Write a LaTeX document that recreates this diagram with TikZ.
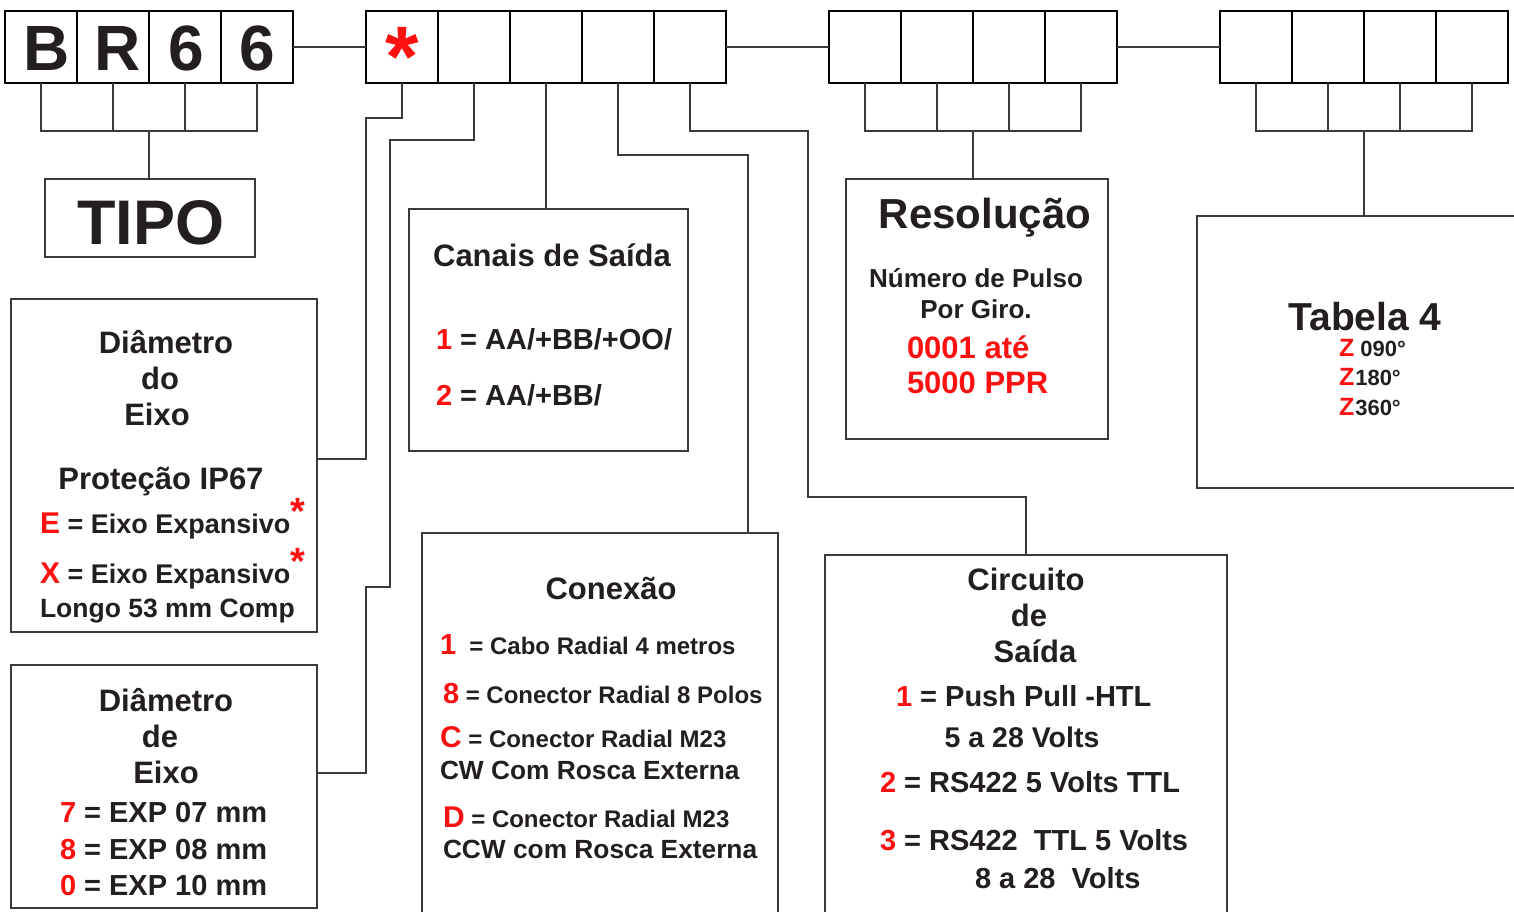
\documentclass[tikz,border=0pt]{standalone}
\usepackage{fontspec}
\setmainfont{Liberation Sans}
\usetikzlibrary{calc}
\definecolor{rd}{HTML}{FF1010}
\definecolor{ink}{HTML}{231F20}
\definecolor{ln}{HTML}{3A3A3A}
\newcommand\fz[1]{\fontsize{#1}{#1}\selectfont\bfseries}
\newcommand\R[1]{\textcolor{rd}{#1}}
\newcommand\RB[2]{\textcolor{rd}{\fontsize{#1}{#1}\selectfont #2}}
\newcommand\Ast{\textcolor{rd}{\raisebox{9pt}{\fontsize{38}{38}\selectfont *}}}
\begin{document}
\begin{tikzpicture}[x=1pt,y=-1pt,
  every node/.style={inner sep=0pt,outer sep=0pt,text=ink},
  cell/.style={draw=black,line width=2pt,minimum width=72pt,minimum height=72pt},
  box/.style={draw=ln,line width=1.5pt},
  wire/.style={draw=ln,line width=1.5pt},
  t/.style={anchor=base},
  tl/.style={anchor=base west}]
\useasboundingbox (0,0) rectangle (1514,911);
\fill[white] (0,0) rectangle (1514,911);

% ---- top cells
\foreach \i/\x in {1/41,2/113,3/185,4/257} \node[cell] (a\i) at (\x,47) {};
\foreach \i/\x in {1/402,2/474,3/546,4/618,5/690} \node[cell] (b\i) at (\x,47) {};
\foreach \i/\x in {1/865,2/937,3/1009,4/1081} \node[cell] (c\i) at (\x,47) {};
\foreach \i/\x in {1/1256,2/1328,3/1400,4/1472} \node[cell] (d\i) at (\x,47) {};

\node[t,font=\fz{64}] (la1) at (47,70) {B};
\node[t,font=\fz{64}] (la2) at (118,70) {R};
\node[t,font=\fz{64}] (la3) at (186,70) {6};
\node[t,font=\fz{64}] (la4) at (257,70) {6};
\node[t,font=\fz{86},text=rd] (star) at (402,86) {*};

\draw[wire] (a4.east) -- (b1.west);
\draw[wire] (b5.east) -- (c1.west);
\draw[wire] (c4.east) -- (d1.west);

% ---- boxes
\node[box,minimum width=210pt,minimum height=78pt] (tipo) at (150,218) {};
\node[box,minimum width=262pt,minimum height=260pt] (res) at (977,309) {};
\node[box,minimum width=323pt,minimum height=272pt] (tab) at (1358.5,352) {};
\node[box,minimum width=279pt,minimum height=242pt] (can) at (548.5,330) {};
\node[box,minimum width=356pt,minimum height=382pt] (con) at (600,724) {};
\node[box,minimum width=402pt,minimum height=360pt] (cir) at (1026,735) {};
\node[box,minimum width=306pt,minimum height=333pt] (dia1) at (164,465.5) {};
\node[box,minimum width=306pt,minimum height=243pt] (dia2) at (164,786.5) {};

% ---- sub boxes and stems
\draw[wire] (a1.south) -- ++(0,48) -| (a4.south);
\draw[wire] (a2.south) -- ++(0,48);
\draw[wire] (a3.south) -- ++(0,48);
\coordinate (as) at ($(a2.south)!0.5!(a3.south)+(0,48)$);
\draw[wire] (as) -- (as |- tipo.north);

\draw[wire] (c1.south) -- ++(0,48) -| (c4.south);
\draw[wire] (c2.south) -- ++(0,48);
\draw[wire] (c3.south) -- ++(0,48);
\coordinate (cs) at ($(c2.south)!0.5!(c3.south)+(0,48)$);
\draw[wire] (cs) -- (cs |- res.north);

\draw[wire] (d1.south) -- ++(0,48) -| (d4.south);
\draw[wire] (d2.south) -- ++(0,48);
\draw[wire] (d3.south) -- ++(0,48);
\coordinate (ds) at ($(d2.south)!0.5!(d3.south)+(0,48)$);
\draw[wire] (ds) -- (ds |- tab.north);

% ---- connectors of the second group
\coordinate (k1) at (366,118);
\coordinate (j1) at (317,459);
\draw[wire] (b1.south) |- (k1) |- (j1);
\coordinate (k2) at (390,140);
\coordinate (k3) at (366,587);
\coordinate (j2) at (317,773);
\draw[wire] (b2.south) |- (k2) |- (k3) |- (j2);
\draw[wire] (b3.south) -- (b3.south |- can.north);
\coordinate (k4) at (748,155);
\draw[wire] (b4.south) |- (k4) -- (k4 |- con.north);
\coordinate (k5) at (808,131);
\coordinate (k6) at (1026,497);
\draw[wire] (b5.south) |- (k5) |- (k6) -- (k6 |- cir.north);

% ---- texts
\node[t,font=\fz{63}] (tipot) at (151,244) {TIPO};

\node[t,font=\fz{31}] (cant) at (552,266) {Canais de Saída};
\node[tl,font=\fz{29}] (can1) at (436,349) {\R{1} = AA/+BB/+OO/};
\node[tl,font=\fz{29}] (can2) at (436,405) {\R{2} = AA/+BB/};

\node[t,font=\fz{42}] (rest) at (985,228) {Resolução};
\node[t,font=\fz{26}] (res1) at (976,287) {Número de Pulso};
\node[t,font=\fz{26}] (res2) at (976,318) {Por Giro.};
\node[tl,font=\fz{31},text=rd] (res3) at (907,358) {0001 até};
\node[tl,font=\fz{31},text=rd] (res4) at (907,393) {5000 PPR};

\node[t,font=\fz{39}] (tabt) at (1365,330) {Tabela 4};
\node[tl,font=\fz{22}] (tab1) at (1339,356) {\RB{25}{Z} 090°};
\node[tl,font=\fz{22}] (tab2) at (1339,385) {\RB{25}{Z}\kern1pt 180°};
\node[tl,font=\fz{22}] (tab3) at (1339,415) {\RB{25}{Z}\kern1pt 360°};

\node[t,font=\fz{31}] (d1a) at (166,353) {Diâmetro};
\node[t,font=\fz{31}] (d1b) at (160,389) {do};
\node[t,font=\fz{31}] (d1c) at (157,425) {Eixo};
\node[t,font=\fz{31}] (d1d) at (161,489) {Proteção IP67};
\node[tl,font=\fz{27}] (d1e) at (40,533) {\RB{30}{E} = Eixo Expansivo\Ast};
\node[tl,font=\fz{27}] (d1f) at (40,583) {\RB{30}{X} = Eixo Expansivo\Ast};
\node[tl,font=\fz{26.5}] (d1g) at (40,617) {Longo 53 mm Comp};

\node[t,font=\fz{31}] (d2a) at (166,711) {Diâmetro};
\node[t,font=\fz{31}] (d2b) at (160,747) {de};
\node[t,font=\fz{31}] (d2c) at (166,783) {Eixo};
\node[tl,font=\fz{29}] (d2d) at (60,822) {\R{7} = EXP 07 mm};
\node[tl,font=\fz{29}] (d2e) at (60,859) {\R{8} = EXP 08 mm};
\node[tl,font=\fz{29}] (d2f) at (60,895) {\R{0} = EXP 10 mm};

\node[t,font=\fz{31}] (cont) at (611,599) {Conexão};
\node[tl,font=\fz{24}] (con1) at (440,654) {\RB{29}{1} \ = Cabo Radial 4 metros};
\node[tl,font=\fz{24}] (con2) at (443,703) {\RB{29}{8} = Conector Radial 8 Polos};
\node[tl,font=\fz{24}] (con3) at (440,747) {\RB{30}{C} = Conector Radial M23};
\node[tl,font=\fz{26.3}] (con4) at (440,779) {CW Com Rosca Externa};
\node[tl,font=\fz{24}] (con5) at (443,827) {\RB{30}{D} = Conector Radial M23};
\node[tl,font=\fz{26.3}] (con6) at (443,858) {CCW com Rosca Externa};

\node[t,font=\fz{31}] (cira) at (1026,590) {Circuito};
\node[t,font=\fz{31}] (cirb) at (1029,626) {de};
\node[t,font=\fz{31}] (circ) at (1035,662) {Saída};
\node[tl,font=\fz{29}] (cir1) at (896,706) {\R{1} = Push Pull -HTL};
\node[t,font=\fz{28.5}] (cir2) at (1022,747) {5 a 28 Volts};
\node[tl,font=\fz{29}] (cir3) at (880,792) {\R{2} = RS422 5 Volts TTL};
\node[tl,font=\fz{29}] (cir4) at (880,850) {\R{3} = RS422\ \ TTL 5 Volts};
\node[tl,font=\fz{29}] (cir5) at (975,888) {8 a 28\ \ Volts};
\end{tikzpicture}
\end{document}
